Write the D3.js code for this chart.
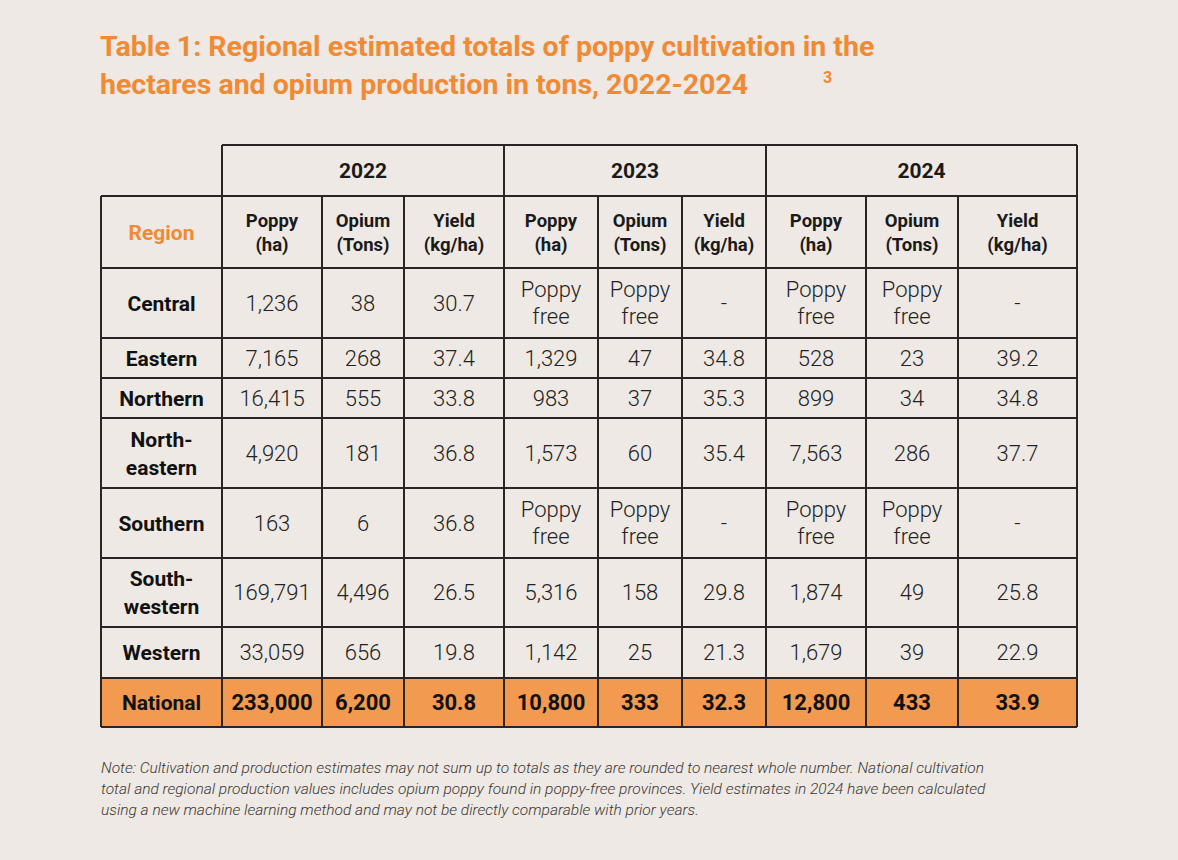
<!DOCTYPE html>
<html><head><meta charset="utf-8">
<script src="https://cdn.jsdelivr.net/npm/d3@7"></script>
<style>
body{margin:0;background:#eee9e4;}
svg{display:block;font-family:Roboto,sans-serif;}
</style></head><body>
<svg id="chart" width="1178" height="860"></svg>
<script>
var years = ["2022", "2023", "2024"];
var subHeaders = [["Poppy", "(ha)"], ["Opium", "(Tons)"], ["Yield", "(kg/ha)"]];
var regions = [["Central"], ["Eastern"], ["Northern"], ["North-", "eastern"], ["Southern"], ["South-", "western"], ["Western"]];
var values = [
  ["1,236", "38", "30.7", "Poppy free", "Poppy free", "-", "Poppy free", "Poppy free", "-"],
  ["7,165", "268", "37.4", "1,329", "47", "34.8", "528", "23", "39.2"],
  ["16,415", "555", "33.8", "983", "37", "35.3", "899", "34", "34.8"],
  ["4,920", "181", "36.8", "1,573", "60", "35.4", "7,563", "286", "37.7"],
  ["163", "6", "36.8", "Poppy free", "Poppy free", "-", "Poppy free", "Poppy free", "-"],
  ["169,791", "4,496", "26.5", "5,316", "158", "29.8", "1,874", "49", "25.8"],
  ["33,059", "656", "19.8", "1,142", "25", "21.3", "1,679", "39", "22.9"]
];
var national = ["233,000", "6,200", "30.8", "10,800", "333", "32.3", "12,800", "433", "33.9"];
var titleLines = ["Table 1: Regional estimated totals of poppy cultivation in the", "hectares and opium production in tons, 2022-2024"];
var noteLines = [
  "Note: Cultivation and production estimates may not sum up to totals as they are rounded to nearest whole number. National cultivation",
  "total and regional production values includes opium poppy found in poppy-free provinces. Yield estimates in 2024 have been calculated",
  "using a new machine learning method and may not be directly comparable with prior years."
];

var svg = d3.select("#chart");
var orange = "#f08a34", fill = "#f29a4f", line = "#2a2522";

// title
svg.selectAll(".title").data(titleLines).enter().append("text")
  .attr("x", 100).attr("y", function(d, i) { return 56 + i * 38; })
  .attr("fill", orange).attr("font-size", 28.5).attr("font-weight", 700)
  .text(function(d) { return d; });
svg.append("text").attr("x", 823).attr("y", 83).attr("fill", orange)
  .attr("font-size", 16).attr("font-weight", 700).text("3");

// column and row edges
var colX = [101, 222, 322, 404, 504, 598, 682, 766, 866, 958, 1077];
var rowY = [196, 268, 338, 378, 418, 488, 558, 627, 678, 727];
var yearTop = 145;
var g = svg.append("g");

// national row fill
g.append("rect").attr("x", colX[0]).attr("y", rowY[8]).attr("width", colX[10] - colX[0])
  .attr("height", rowY[9] - rowY[8]).attr("fill", fill);

function cx(i) { return (colX[i] + colX[i + 1]) / 2; }
function cy(j) { return (rowY[j] + rowY[j + 1]) / 2; }

function multi(x, y, lines, size, weight, color, lh) {
  var t = g.append("text").attr("x", x).attr("text-anchor", "middle")
    .attr("font-size", size).attr("font-weight", weight).attr("fill", color);
  var n = lines.length;
  lines.forEach(function(l, k) {
    t.append("tspan").attr("x", x).attr("y", y + (k - (n - 1) / 2) * lh + size * 0.36).text(l);
  });
}

// year header
years.forEach(function(yr, k) {
  multi((colX[1 + 3 * k] + colX[4 + 3 * k]) / 2, (yearTop + rowY[0]) / 2, [yr], 21, 700, "#1a1a1a", 0);
});
// sub headers
multi(cx(0), cy(0), ["Region"], 21, 700, orange, 0);
for (var c = 0; c < 9; c++) multi(cx(c + 1), cy(0), subHeaders[c % 3], 18.5, 700, "#1a1a1a", 24);

// body
regions.forEach(function(r, j) {
  multi(cx(0), cy(j + 1), r, 21, 700, "#111", 28);
  values[j].forEach(function(v, c) {
    var lines = v === "Poppy free" ? ["Poppy", "free"] : [v];
    multi(cx(c + 1), cy(j + 1), lines, 22, 300, "#222", 27);
  });
});
multi(cx(0), cy(8), ["National"], 21, 700, "#111", 0);
national.forEach(function(v, c) { multi(cx(c + 1), cy(8), [v], 22, 700, "#111", 0); });

// grid lines
var ls = { stroke: line, "stroke-width": 2 };
function ln(x1, y1, x2, y2) {
  var l = g.append("line").attr("x1", x1).attr("y1", y1).attr("x2", x2).attr("y2", y2);
  for (var k in ls) l.attr(k, ls[k]);
}
ln(colX[1], yearTop, colX[10], yearTop);
rowY.forEach(function(y) { ln(colX[0], y, colX[10], y); });
colX.forEach(function(x, i) {
  var top = (i === 0) ? rowY[0] : (i === 1 || i === 4 || i === 7 || i === 10) ? yearTop : rowY[0];
  ln(x, top, x, rowY[9]);
});

// note
svg.selectAll(".note").data(noteLines).enter().append("text")
  .attr("x", 101).attr("y", function(d, i) { return 773 + i * 21; })
  .attr("font-size", 15.5).attr("font-style", "italic").attr("font-weight", 300)
  .attr("fill", "#3a3633").text(function(d) { return d; });
</script>
</body></html>
